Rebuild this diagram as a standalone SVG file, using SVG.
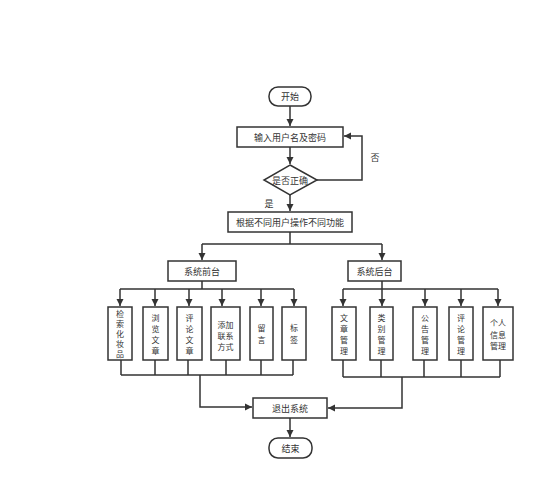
<svg xmlns="http://www.w3.org/2000/svg" width="555" height="500" viewBox="0 0 555 500">
<style>
.b{fill:#fff;stroke:#333;stroke-width:1.5}
.t{font-family:"Noto Sans CJK SC","Noto Sans",sans-serif;font-size:9px;fill:#333;text-anchor:middle;dominant-baseline:central}
.v{font-size:8px}
.c{fill:none;stroke:#333;stroke-width:1.5}
</style>
<defs>
<marker id="a" markerUnits="userSpaceOnUse" markerWidth="8" markerHeight="8" refX="7" refY="4" orient="auto">
<path d="M0,0.5 L7,4 L0,7.5 Z" fill="#333"/>
</marker>
</defs>
<rect width="555" height="500" fill="#fff"/>
<g id="connectors">
<path class="c" d="M290,106 V126" marker-end="url(#a)"/>
<path class="c" d="M290,147 V164" marker-end="url(#a)"/>
<path class="c" d="M317,180 H362 V136 H344" marker-end="url(#a)"/>
<path class="c" d="M290,195 V211" marker-end="url(#a)"/>
<path class="c" d="M290,232 V244 M202,244 H382"/>
<path class="c" d="M202,244 V260" marker-end="url(#a)"/>
<path class="c" d="M382,244 V260" marker-end="url(#a)"/>
<path class="c" d="M202,281 V289 M120,289 H294"/>
<path class="c" d="M120,289 V306" marker-end="url(#a)"/>
<path class="c" d="M155,289 V306" marker-end="url(#a)"/>
<path class="c" d="M189,289 V306" marker-end="url(#a)"/>
<path class="c" d="M222,289 V306" marker-end="url(#a)"/>
<path class="c" d="M261,289 V306" marker-end="url(#a)"/>
<path class="c" d="M294,289 V306" marker-end="url(#a)"/>
<path class="c" d="M382,281 V289 M343,289 H498"/>
<path class="c" d="M343,289 V306" marker-end="url(#a)"/>
<path class="c" d="M382,289 V306" marker-end="url(#a)"/>
<path class="c" d="M425,289 V306" marker-end="url(#a)"/>
<path class="c" d="M461,289 V306" marker-end="url(#a)"/>
<path class="c" d="M498,289 V306" marker-end="url(#a)"/>
<path class="c" d="M121,360 V375 M155,360 V375 M188,360 V375 M226,360 V375 M261,360 V375 M293,360 V375 M121,375 H293"/>
<path class="c" d="M200,375 V407 H252" marker-end="url(#a)"/>
<path class="c" d="M343,360 V377 M381,360 V377 M424,360 V377 M461,360 V377 M500,360 V377 M343,377 H500"/>
<path class="c" d="M402,377 V408 H328" marker-end="url(#a)"/>
<path class="c" d="M290,418 V437" marker-end="url(#a)"/>
</g>
<g id="start"><rect class="b" x="269" y="87" width="42" height="19" rx="9"/><text class="t" x="290" y="96.5">开始</text></g>
<g id="input"><rect class="b" x="237" y="127" width="106" height="20"/><text class="t" x="290" y="137">输入用户名及密码</text></g>
<g id="check"><path class="b" d="M290,165 L317,180 L290,195 L264,180 Z"/><text class="t" x="290" y="180">是否正确</text></g>
<text class="t" x="375" y="157">否</text>
<text class="t" x="269" y="203">是</text>
<g id="func"><rect class="b" x="228" y="212" width="124" height="20"/><text class="t" x="290" y="222">根据不同用户操作不同功能</text></g>
<g id="front"><rect class="b" x="168" y="261" width="68" height="20"/><text class="t" x="202" y="271">系统前台</text></g>
<g id="back"><rect class="b" x="348" y="261" width="53" height="20"/><text class="t" x="374.5" y="271">系统后台</text></g>
<g id="f1"><rect class="b" x="108" y="307" width="24" height="53"/>
<text class="t v" x="120" y="313">检</text><text class="t v" x="120" y="323">索</text><text class="t v" x="120" y="333">化</text><text class="t v" x="120" y="343">妆</text><text class="t v" x="120" y="353">品</text></g>
<g id="f2"><rect class="b" x="143" y="307" width="25" height="53"/>
<text class="t v" x="155.5" y="317">浏</text><text class="t v" x="155.5" y="328">览</text><text class="t v" x="155.5" y="339">文</text><text class="t v" x="155.5" y="350">章</text></g>
<g id="f3"><rect class="b" x="177" y="307" width="25" height="53"/>
<text class="t v" x="189.5" y="317">评</text><text class="t v" x="189.5" y="328">论</text><text class="t v" x="189.5" y="339">文</text><text class="t v" x="189.5" y="350">章</text></g>
<g id="f4"><rect class="b" x="211" y="307" width="29" height="53"/>
<text class="t v" x="225.5" y="324">添加</text><text class="t v" x="225.5" y="335">联系</text><text class="t v" x="225.5" y="346">方式</text></g>
<g id="f5"><rect class="b" x="250" y="307" width="23" height="53"/>
<text class="t v" x="261.5" y="327">留</text><text class="t v" x="261.5" y="339">言</text></g>
<g id="f6"><rect class="b" x="282" y="307" width="24" height="53"/>
<text class="t v" x="294" y="327">标</text><text class="t v" x="294" y="339">签</text></g>
<g id="b1"><rect class="b" x="332" y="307" width="24" height="53"/>
<text class="t v" x="344" y="317">文</text><text class="t v" x="344" y="328">章</text><text class="t v" x="344" y="339">管</text><text class="t v" x="344" y="350">理</text></g>
<g id="b2"><rect class="b" x="370" y="307" width="23" height="53"/>
<text class="t v" x="381.5" y="317">类</text><text class="t v" x="381.5" y="328">别</text><text class="t v" x="381.5" y="339">管</text><text class="t v" x="381.5" y="350">理</text></g>
<g id="b3"><rect class="b" x="413" y="307" width="24" height="53"/>
<text class="t v" x="425" y="317">公</text><text class="t v" x="425" y="328">告</text><text class="t v" x="425" y="339">管</text><text class="t v" x="425" y="350">理</text></g>
<g id="b4"><rect class="b" x="449" y="307" width="24" height="53"/>
<text class="t v" x="461" y="317">评</text><text class="t v" x="461" y="328">论</text><text class="t v" x="461" y="339">管</text><text class="t v" x="461" y="350">理</text></g>
<g id="b5"><rect class="b" x="483" y="307" width="30" height="53"/>
<text class="t v" x="498" y="322">个人</text><text class="t v" x="498" y="334">信息</text><text class="t v" x="498" y="345">管理</text></g>
<g id="exit"><rect class="b" x="253" y="398" width="74" height="20"/><text class="t" x="290" y="408">退出系统</text></g>
<g id="end"><rect class="b" x="269" y="438" width="43" height="20" rx="9"/><text class="t" x="290.5" y="448">结束</text></g>
</svg>
